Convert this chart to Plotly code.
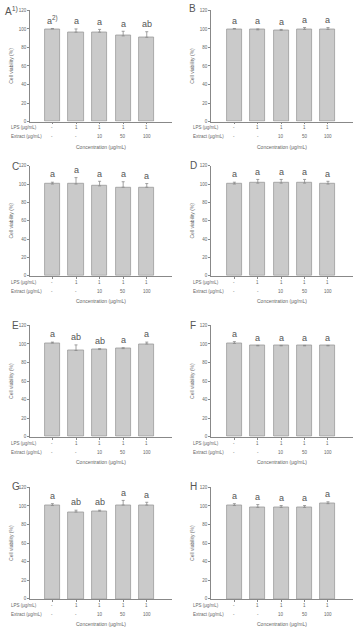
import plotly.graph_objects as go

W, H = 354, 628

panels = ["A", "B", "C", "D", "E", "F", "G", "H"]
lps_labels = ["-", "1", "1", "1", "1"]
extract_labels = ["-", "-", "10", "50", "100"]
y_ticks = [0, 20, 40, 60, 80, 100, 120]

values_A = [100, 96.5, 96.5, 92.5, 91]
errors_A = [0.5, 3.5, 3, 5, 6]
letters_A = ["a<sup>2)</sup>", "a", "a", "a", "ab"]

values_B = [100, 99, 98.5, 99.5, 99.5]
errors_B = [0.5, 1, 1, 2, 2]
letters_B = ["a", "a", "a", "a", "a"]

values_C = [100, 100, 98, 96.5, 96.5]
errors_C = [2, 7, 5, 6, 4]
letters_C = ["a", "a", "a", "a", "a"]

values_D = [100, 101, 101, 101, 100]
errors_D = [2, 4, 4, 4, 3]
letters_D = ["a", "a", "a", "a", "a"]

values_E = [101, 93, 94, 95, 100]
errors_E = [1, 6, 1, 1, 2]
letters_E = ["a", "ab", "ab", "a", "a"]

values_F = [100.5, 98, 98, 98, 98]
errors_F = [2, 0.5, 0.5, 0.5, 0.5]
letters_F = ["a", "a", "a", "a", "a"]

values_G = [100.5, 93.5, 94.5, 101, 101]
errors_G = [2, 2, 1, 5, 3]
letters_G = ["a", "ab", "ab", "a", "a"]

values_H = [100.5, 98.5, 98.5, 98.5, 102.5]
errors_H = [2, 3, 2, 2, 2]
letters_H = ["a", "a", "a", "a", "a"]

data = {
    "A": (values_A, errors_A, letters_A),
    "B": (values_B, errors_B, letters_B),
    "C": (values_C, errors_C, letters_C),
    "D": (values_D, errors_D, letters_D),
    "E": (values_E, errors_E, letters_E),
    "F": (values_F, errors_F, letters_F),
    "G": (values_G, errors_G, letters_G),
    "H": (values_H, errors_H, letters_H),
}

# layout geometry (pixels)
col_x = [(30, 172), (211, 353)]
row_y = [(8.5, 120.5), (165, 276), (326, 438.3), (489.3, 601.7)]
panel_label_pos = {
    "A": (3, 9), "B": (187, 7), "C": (10, 166), "D": (188, 165),
    "E": (10, 326), "F": (188, 326), "G": (10, 488), "H": (188, 488),
}

def px2x(px):
    return px / W

def py2y(py):
    return 1 - py / H

TXT = "#666666"
font_family = "Arial, Liberation Sans, sans-serif"

fig = go.Figure()
annotations = []
cats = list(range(5))

for i, p in enumerate(panels):
    r, c = divmod(i, 2)
    vals, errs, lets = data[p]
    ax = "" if i == 0 else str(i + 1)
    xref = "x" + ax
    yref = "y" + ax
    fig.add_trace(go.Bar(
        x=cats, y=vals, width=0.64,
        marker=dict(color="#cacaca", line=dict(color="#9a9a9a", width=0.8)),
        error_y=dict(type="data", array=errs, arrayminus=[0] * len(errs),
                     symmetric=False, color="#8a8a8a", thickness=0.8, width=1.5),
        xaxis=xref, yaxis=yref, showlegend=False,
    ))
    x0, x1 = col_x[c]
    top, bot = row_y[r]
    xr = [-0.95, 5.07] if c == 0 else [-1.0, 5.07]
    fig.layout["xaxis" + ax] = dict(
        domain=[px2x(x0), px2x(x1)], range=xr, anchor=yref,
        showgrid=False, zeroline=False, showline=True, linecolor="#888888", linewidth=0.8,
        ticks="outside", ticklen=2, tickcolor="#888888", tickvals=cats, showticklabels=False,
    )
    fig.layout["yaxis" + ax] = dict(
        domain=[py2y(bot), py2y(top)], range=[0, 120], anchor=xref,
        showgrid=False, zeroline=False, showline=True, linecolor="#888888", linewidth=0.8,
        ticks="outside", ticklen=2, tickcolor="#888888", tickvals=y_ticks,
        tickfont=dict(size=4.5, color=TXT, family=font_family),
        title=dict(text="Cell viability (%)", font=dict(size=5, color=TXT, family=font_family),
                   standoff=4),
    )
    # significance letters
    for k in cats:
        annotations.append(dict(
            x=k, y=vals[k] + errs[k] + 0.8, xref=xref, yref=yref, text=lets[k],
            showarrow=False, yanchor="bottom", xanchor="center",
            font=dict(size=9, color="#555555", family=font_family),
        ))
    # row labels
    lab_x = 9 if c == 0 else 191
    for txt, off in [("LPS (μg/mL)", 6.5), ("Extract (μg/mL)", 15.5)]:
        annotations.append(dict(
            x=px2x(lab_x), y=py2y(bot + off), xref="paper", yref="paper", text=txt,
            showarrow=False, xanchor="left", yanchor="middle",
            font=dict(size=4.5, color=TXT, family=font_family),
        ))
    for lbls, off in [(lps_labels, 6.5), (extract_labels, 15.5)]:
        for k in cats:
            annotations.append(dict(
                x=k, y=py2y(bot + off), xref=xref, yref="paper", text=lbls[k],
                showarrow=False, xanchor="center", yanchor="middle",
                font=dict(size=4.5, color=TXT, family=font_family),
            ))
    annotations.append(dict(
        x=px2x((x0 + x1) / 2), y=py2y(bot + 25.5), xref="paper", yref="paper",
        text="Concentration (μg/mL)", showarrow=False, xanchor="center", yanchor="middle",
        font=dict(size=5, color=TXT, family=font_family),
    ))
    lx, ly = panel_label_pos[p]
    annotations.append(dict(
        x=px2x(lx), y=py2y(ly), xref="paper", yref="paper",
        text=p + ("<sup>1)</sup>" if p == "A" else ""), showarrow=False,
        xanchor="left", yanchor="middle",
        font=dict(size=10, color="#555555", family=font_family),
    ))

fig.update_layout(
    width=W, height=H, margin=dict(l=0, r=0, t=0, b=0),
    paper_bgcolor="white", plot_bgcolor="white",
    annotations=annotations, bargap=0,
)

fig.write_html("out.html")
